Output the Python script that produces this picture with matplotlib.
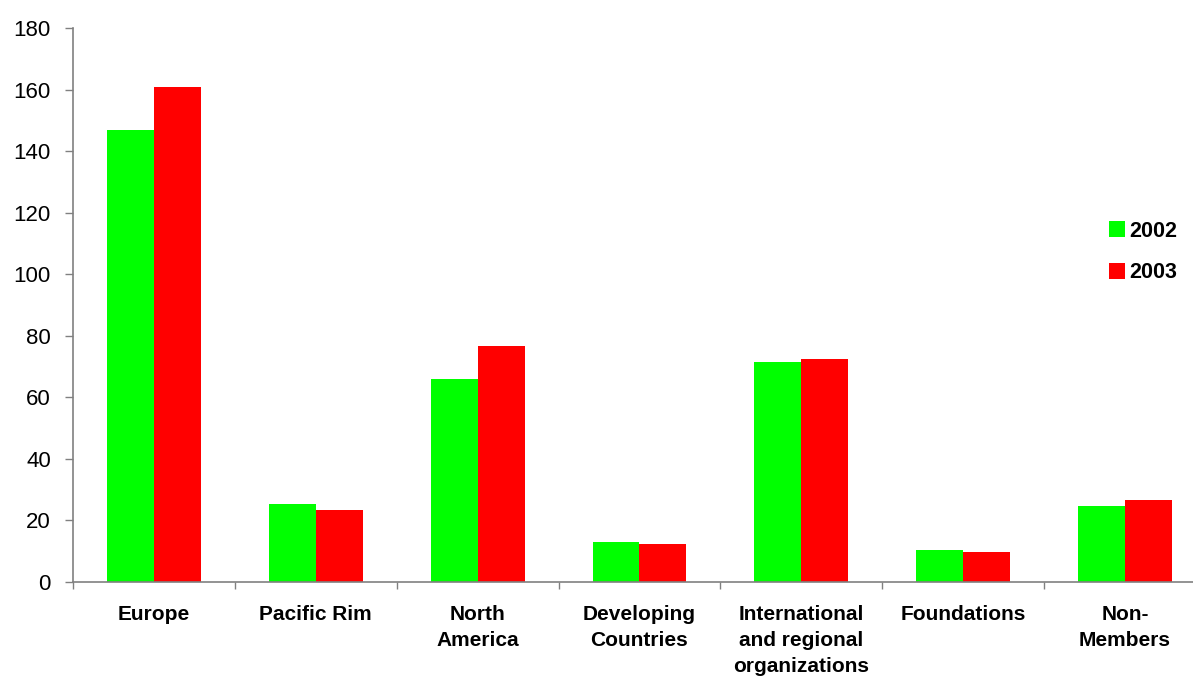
import numpy as np
import matplotlib.pyplot as plt

plt.rcParams['font.family'] = ['Liberation Sans', 'DejaVu Sans']

categories = ["Europe", "Pacific Rim", "North\nAmerica", "Developing\nCountries",
              "International\nand regional\norganizations", "Foundations", "Non-\nMembers"]
years = ["2002", "2003"]
values_2002 = [147, 25.2, 65.9, 12.9, 71.5, 10.3, 24.6]
values_2003 = [160.8, 23.3, 76.6, 12.2, 72.4, 9.7, 26.6]
y_ticks = [0, 20, 40, 60, 80, 100, 120, 140, 160, 180]

fig = plt.figure(figsize=(11.93, 6.83), dpi=100)
ax = fig.add_axes([73 / 1193, 1 - 581.7 / 683, (1206 - 73) / 1193, (581.7 - 28.3) / 683])

x = np.arange(len(categories))
w = 0.29
ax.bar(x - w / 2, values_2002, w, color='#00ff00', label=years[0])
ax.bar(x + w / 2, values_2003, w, color='#ff0000', label=years[1])

ax.set_xlim(-0.5, len(categories) - 0.5)
ax.set_ylim(0, 180)
ax.set_yticks(y_ticks)
ax.tick_params(axis='y', labelsize=16, length=6, width=1, color='#808080', pad=10)

# category labels centred, ticks on the boundaries
ax.set_xticks(x)
ax.set_xticklabels(categories, fontsize=15, fontweight='bold', linespacing=1.45, va='top')
ax.tick_params(axis='x', length=0, pad=17)
ax.set_xticks(np.arange(len(categories) + 1) - 0.5, minor=True)
ax.tick_params(axis='x', which='minor', length=5, width=1, color='#808080')

for s in ['top', 'right']:
    ax.spines[s].set_visible(False)
for s in ['left', 'bottom']:
    ax.spines[s].set_color('#808080')
    ax.spines[s].set_linewidth(1.2)

fig.legend(loc='center left', bbox_to_anchor=(1109 / 1193, 1 - 252 / 683),
           frameon=False, prop={'weight': 'bold', 'size': 15.5},
           handlelength=0.75, handleheight=0.75, handletextpad=0.2,
           labelspacing=0.95, borderpad=0, borderaxespad=0)

fig.savefig('out.png', dpi=100)
